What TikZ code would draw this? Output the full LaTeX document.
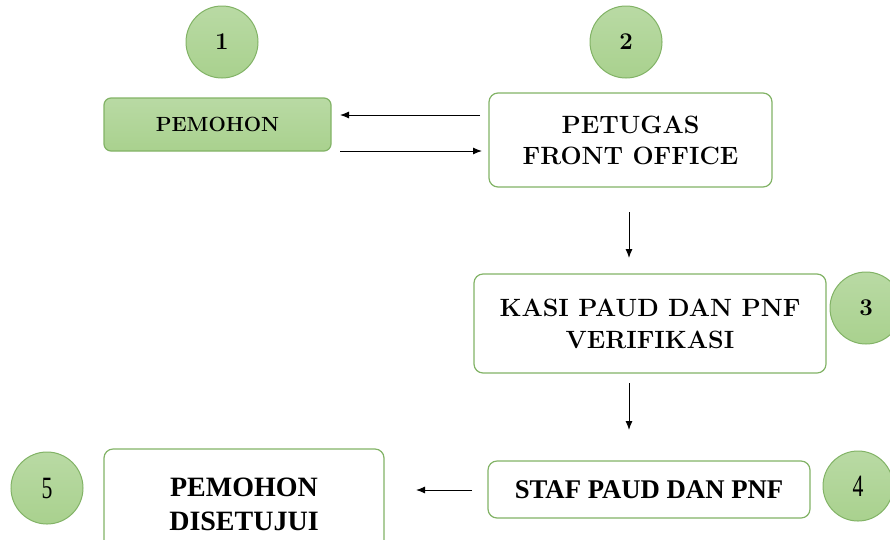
\documentclass[tikz,border=0pt]{standalone}
\usepackage{fontspec}
\newfontfamily\condfont{Liberation Serif}
\usetikzlibrary{arrows.meta}
\definecolor{gfill}{HTML}{A9D18E}
\definecolor{gfilltop}{HTML}{B9DAA4}
\definecolor{gline}{HTML}{82B366}
\begin{document}
\begin{tikzpicture}[x=1pt,y=-1pt,
  numcirc/.style={circle,draw=gline,line width=1pt,top color=gfilltop,bottom color=gfill,minimum size=72pt,inner sep=0pt,font=\fontsize{24}{26}\selectfont\bfseries},
  whitebox/.style={draw=gline,line width=1.2pt,rounded corners=9pt,fill=white,align=center,inner sep=0pt},
  greenbox/.style={draw=gline,line width=1.2pt,rounded corners=7pt,top color=gfilltop,bottom color=gfill,align=center,inner sep=0pt},
  arr/.style={-{Latex[length=9pt,width=7pt]},line width=1pt}]
\useasboundingbox (0,0) rectangle (890,539);
\node[numcirc] (c1) at (222,42) {1};
\node[numcirc] (c2) at (626,42) {2};
\node[numcirc] (c3) at (866,308) {3};
\node[numcirc,minimum width=68pt,minimum height=70pt,font=\fontsize{31}{32}\selectfont\condfont] (c4) at (858,486) {\scalebox{0.7}[1]{4}};
\node[numcirc,minimum width=72pt,minimum height=70pt,font=\fontsize{31}{32}\selectfont\condfont] (c5) at (47,488) {\scalebox{0.7}[1]{5}};
\node[greenbox,minimum width=227pt,minimum height=53pt,font=\fontsize{20.5}{22}\selectfont\bfseries] (b1) at (217.5,124.5) {PEMOHON};
\node[whitebox,minimum width=283pt,minimum height=94pt,font=\fontsize{25}{31}\selectfont\bfseries] (b2) at (630.5,140) {PETUGAS\\FRONT OFFICE};
\node[whitebox,minimum width=352pt,minimum height=99pt,font=\fontsize{25}{32}\selectfont\bfseries] (b3) at (650,323.5) {KASI PAUD DAN PNF\\VERIFIKASI};
\node[whitebox,minimum width=322pt,minimum height=57pt,font=\fontsize{27}{32}\selectfont\condfont\bfseries] (b4) at (649,489.5) {\scalebox{0.99}[1]{STAF PAUD DAN PNF}};
\node[whitebox,minimum width=280pt,minimum height=110pt,font=\fontsize{28}{34}\selectfont\condfont\bfseries] (b5) at (244,504) {PEMOHON\\DISETUJUI};
\coordinate (a1s) at (480,115); \coordinate (a1e) at (340,115);
\coordinate (a2s) at (340,151); \coordinate (a2e) at (482,151);
\coordinate (a3s) at (629,212); \coordinate (a3e) at (629,258);
\coordinate (a4s) at (629,383); \coordinate (a4e) at (629,430);
\coordinate (a5s) at (472,490); \coordinate (a5e) at (416,490);
\draw[arr] (a1s) -- (a1e);
\draw[arr] (a2s) -- (a2e);
\draw[arr] (a3s) -- (a3e);
\draw[arr] (a4s) -- (a4e);
\draw[arr] (a5s) -- (a5e);
\end{tikzpicture}
\end{document}
